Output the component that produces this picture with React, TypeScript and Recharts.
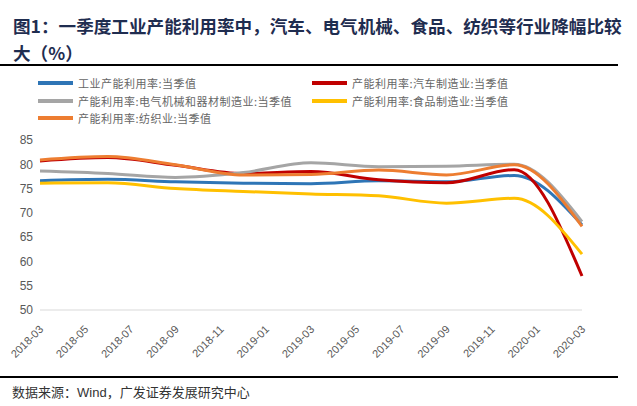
import React from 'react';
import { LineChart, Line, XAxis, YAxis } from 'recharts';

const QUARTERS = ['2018-03', '2018-06', '2018-09', '2018-12', '2019-03', '2019-06', '2019-09', '2019-12', '2020-03'];
const TICK_LABELS = ['2018-03', '2018-05', '2018-07', '2018-09', '2018-11', '2019-01', '2019-03', '2019-05', '2019-07', '2019-09', '2019-11', '2020-01', '2020-03'];

const INDUSTRY = [76.6, 76.9, 76.4, 76.1, 76.0, 76.6, 76.4, 77.7, 67.5];
const AUTO = [80.7, 81.4, 79.8, 78.1, 78.5, 76.8, 76.2, 78.9, 57.0];
const ELECTRIC = [78.6, 78.1, 77.3, 78.3, 80.3, 79.5, 79.6, 80.0, 68.2];
const FOOD = [76.1, 76.2, 75.0, 74.4, 73.9, 73.5, 72.0, 73.0, 61.5];
const TEXTILE = [80.9, 81.6, 79.9, 77.8, 77.9, 78.8, 77.8, 79.9, 67.2];

const Y_TICKS = [50, 55, 60, 65, 70, 75, 80, 85];

const SERIES = [
  { key: 'industry', name: '工业产能利用率:当季值', color: '#2e75b6', values: INDUSTRY },
  { key: 'auto', name: '产能利用率:汽车制造业:当季值', color: '#c00000', values: AUTO },
  { key: 'electric', name: '产能利用率:电气机械和器材制造业:当季值', color: '#a5a5a5', values: ELECTRIC },
  { key: 'food', name: '产能利用率:食品制造业:当季值', color: '#ffc000', values: FOOD },
  { key: 'textile', name: '产能利用率:纺织业:当季值', color: '#ed7d31', values: TEXTILE },
];

// month index counted from 2018-03
const toMonth = (s: string) => {
  const [y, m] = s.split('-').map(Number);
  return (y - 2018) * 12 + m - 3;
};

const data = QUARTERS.map((q, i) => {
  const row: any = { m: toMonth(q) };
  SERIES.forEach(s => { row[s.key] = s.values[i]; });
  return row;
});

const tickMonths = TICK_LABELS.map(toMonth);
const labelOf: any = {};
TICK_LABELS.forEach(t => { labelOf[toMonth(t)] = t; });

const cjk = '"Noto Sans CJK SC", sans-serif';

const XTick = (props: any) => {
  const { x, y, payload } = props;
  const tx = x + 4;
  const ty = y + 12;
  return (
    <text x={tx} y={ty} textAnchor="end" fontSize={11} fill="#595959"
      fontFamily='"Liberation Sans", Arial, sans-serif' transform={`rotate(-45, ${tx}, ${ty})`}>
      {labelOf[payload.value]}
    </text>
  );
};

export default function App() {
  return (
    <div style={{ position: 'absolute', left: 0, top: 0, width: 637, height: 406, background: '#fff', overflow: 'hidden' }}>
      <div style={{ position: 'absolute', left: 13, top: 12, width: 624, fontFamily: cjk, fontWeight: 700, fontSize: 17.6, lineHeight: '27px', color: '#1f2d50', whiteSpace: 'nowrap' }}>
        图1：一季度工业产能利用率中，汽车、电气机械、食品、纺织等行业降幅比较<br />大（%）
      </div>
      <div style={{ position: 'absolute', left: 0, top: 64, width: 618, height: 2, background: '#000' }} />

      {SERIES.map((s, i) => {
        const col = i % 2;
        const row = Math.floor(i / 2);
        return (
          <div key={s.key} style={{ position: 'absolute', left: col ? 312 : 38, top: 75 + row * 17.5, height: 16, display: 'flex', alignItems: 'center', fontFamily: cjk, fontSize: 11, letterSpacing: 0.5, color: '#666', whiteSpace: 'nowrap' }}>
            <div style={{ width: 35, height: 4, background: s.color, marginRight: 5 }} />
            <span>{s.name}</span>
          </div>
        );
      })}

      <div style={{ position: 'absolute', left: 0, top: 0 }}>
        <LineChart width={637} height={370} data={data} margin={{ top: 140, right: 55, bottom: 0, left: 0 }}>
          <XAxis dataKey="m" type="number" domain={[0, 24]} ticks={tickMonths} interval={0}
            axisLine={{ stroke: '#d9d9d9' }} tickLine={false} height={60} tick={<XTick />} />
          <YAxis type="number" domain={[50, 85]} ticks={Y_TICKS} width={40} axisLine={false} tickLine={false}
            tickSize={0} tickMargin={7} tick={{ fontSize: 12, fill: '#595959', fontFamily: '"Liberation Sans", Arial, sans-serif' }} />
          {SERIES.map(s => (
            <Line key={s.key} dataKey={s.key} type="monotone" stroke={s.color} strokeWidth={3}
              dot={false} isAnimationActive={false} />
          ))}
        </LineChart>
      </div>

      <div style={{ position: 'absolute', left: 0, top: 376, width: 618, height: 2, background: '#000' }} />
      <div style={{ position: 'absolute', left: 12, top: 382, fontFamily: cjk, fontSize: 13, color: '#333', whiteSpace: 'nowrap' }}>
        数据来源：<span style={{ fontFamily: '"Liberation Sans", Arial, sans-serif' }}>Wind</span>，广发证券发展研究中心
      </div>
    </div>
  );
}
